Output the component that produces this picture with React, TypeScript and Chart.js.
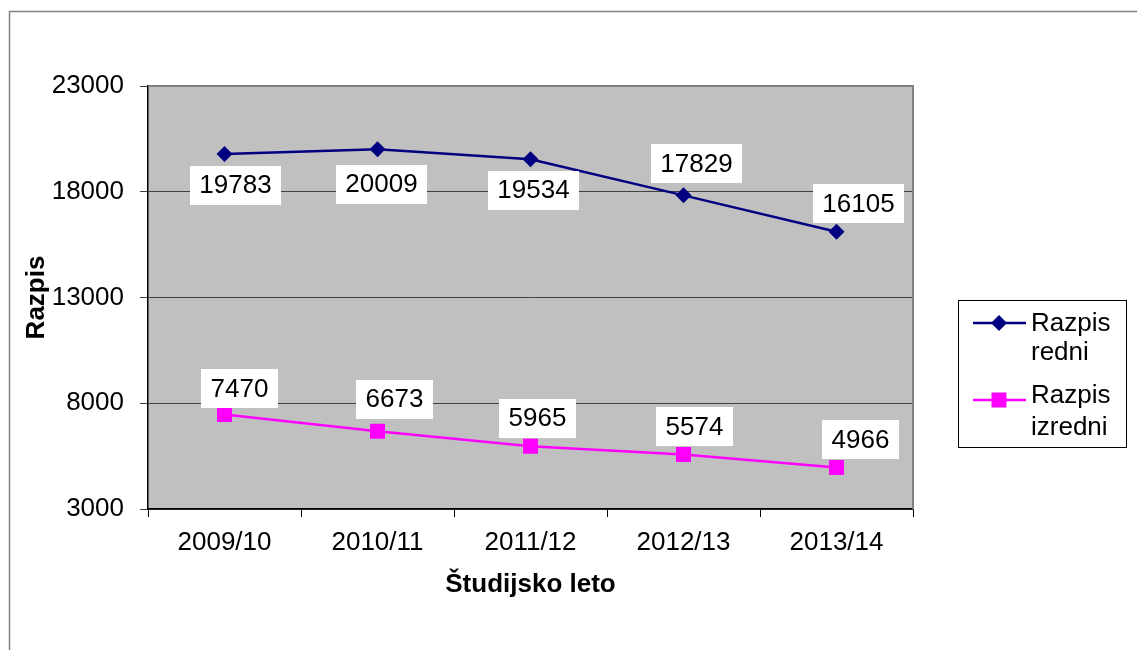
import React, { useEffect, useRef } from "react";
import { Chart, registerables } from "chart.js";

Chart.register(...registerables);

const categories = ["2009/10", "2010/11", "2011/12", "2012/13", "2013/14"];
const redni = [19783, 20009, 19534, 17829, 16105];
const izredni = [7470, 6673, 5965, 5574, 4966];
const seriesNames = [["Razpis", "redni"], ["Razpis", "izredni"]];
const yTitle = "Razpis";
const xTitle = "Študijsko leto";

// label placement offsets (pixels from the point), styling only
const labelOffsets = [
  [[11, 31], [4, 35], [3, 31], [13, -32], [22, -28]],
  [[15, -26], [17, -32], [7, -28], [11, -28], [24, -28]],
];

const FONT = "'Liberation Sans', Arial, sans-serif";
const BLUE = "#000080";
const PINK = "#FF00FF";

const bgPlugin = {
  id: "bgPlugin",
  beforeDraw(chart: any) {
    const { ctx, chartArea } = chart;
    ctx.save();
    ctx.fillStyle = "#ffffff";
    ctx.fillRect(0, 0, chart.width, chart.height);
    ctx.strokeStyle = "#808080";
    ctx.lineWidth = 1.5;
    ctx.strokeRect(9.5, 11.5, chart.width + 20, chart.height + 20);
    ctx.fillStyle = "#C0C0C0";
    ctx.fillRect(chartArea.left, chartArea.top, chartArea.right - chartArea.left, chartArea.bottom - chartArea.top);
    ctx.restore();
  },
  beforeDatasetsDraw(chart: any) {
    const { ctx, chartArea } = chart;
    ctx.save();
    ctx.strokeStyle = "#808080";
    ctx.lineWidth = 2;
    ctx.beginPath();
    ctx.moveTo(chartArea.left, chartArea.top);
    ctx.lineTo(chartArea.right, chartArea.top);
    ctx.lineTo(chartArea.right, chartArea.bottom);
    ctx.stroke();
    ctx.restore();
  },
  afterDatasetsDraw(chart: any) {
    const { ctx } = chart;
    ctx.save();
    ctx.font = `26px ${FONT}`;
    ctx.textAlign = "center";
    ctx.textBaseline = "middle";
    chart.data.datasets.forEach((ds: any, di: number) => {
      const meta = chart.getDatasetMeta(di);
      meta.data.forEach((pt: any, i: number) => {
        const text = String(ds.data[i]);
        const [ox, oy] = labelOffsets[di][i];
        const cx = pt.x + ox;
        const cy = pt.y + oy;
        const w = ctx.measureText(text).width + 19;
        const h = 39;
        ctx.fillStyle = "#ffffff";
        ctx.fillRect(Math.round(cx - w / 2), Math.round(cy - h / 2), Math.round(w), h);
        ctx.fillStyle = "#000000";
        ctx.fillText(text, cx, cy + 1);
      });
    });
    ctx.restore();
  },
  afterDraw(chart: any) {
    const { ctx } = chart;
    ctx.save();
    ctx.strokeStyle = "#000000";
    ctx.lineWidth = 1;
    ctx.strokeRect(958.5, 300.5, 168, 147);
    const entries = [
      { y: 323, lines: [324, 353] },
      { y: 400, lines: [396, 428] },
    ];
    chart.data.datasets.forEach((ds: any, di: number) => {
      const e = entries[di];
      ctx.strokeStyle = ds.borderColor;
      ctx.lineWidth = ds.borderWidth;
      ctx.beginPath();
      ctx.moveTo(973, e.y);
      ctx.lineTo(1026, e.y);
      ctx.stroke();
      ctx.fillStyle = ds.backgroundColor;
      if (ds.pointStyle === "rectRot") {
        const r = 8;
        ctx.beginPath();
        ctx.moveTo(999, e.y - r);
        ctx.lineTo(999 + r, e.y);
        ctx.lineTo(999, e.y + r);
        ctx.lineTo(999 - r, e.y);
        ctx.closePath();
        ctx.fill();
      } else {
        ctx.fillRect(999 - 7.5, e.y - 7.5, 15, 15);
      }
      ctx.fillStyle = "#000000";
      ctx.font = `26px ${FONT}`;
      ctx.textAlign = "left";
      ctx.textBaseline = "middle";
      seriesNames[di].forEach((t, k) => ctx.fillText(t, 1031, e.lines[k]));
    });
    ctx.restore();
  },
};

export default function App() {
  const ref = useRef<HTMLCanvasElement>(null);
  useEffect(() => {
    if (!ref.current) return;
    Chart.defaults.font.family = FONT;
    const chart = new Chart(ref.current, {
      type: "line",
      data: {
        labels: categories,
        datasets: [
          {
            label: seriesNames[0].join(" "),
            data: redni,
            borderColor: BLUE,
            backgroundColor: BLUE,
            borderWidth: 2.5,
            pointStyle: "rectRot",
            pointRadius: 8,
            pointBorderWidth: 0,
            tension: 0,
          },
          {
            label: seriesNames[1].join(" "),
            data: izredni,
            borderColor: PINK,
            backgroundColor: PINK,
            borderWidth: 2.5,
            pointStyle: "rect",
            pointRadius: 10.6,
            pointBorderWidth: 0,
            tension: 0,
          },
        ],
      },
      options: {
        responsive: false,
        animation: false,
        devicePixelRatio: 1,
        layout: { padding: { left: 0, right: 224, top: 86, bottom: 0 } },
        plugins: { legend: { display: false }, tooltip: { enabled: false } },
        scales: {
          x: {
            type: "category",
            offset: true,
            grid: { display: true, drawOnChartArea: false, offset: true, tickLength: 8, color: "#000000" },
            border: { color: "#000000", width: 1.5 },
            ticks: { color: "#000000", font: { size: 26 }, padding: 10 },
            title: { display: true, text: xTitle, color: "#000000", font: { size: 26, weight: "bold" }, padding: { top: 0, bottom: 50 } },
            afterFit: (s: any) => { s.height = 141; },
          },
          y: {
            min: 3000,
            max: 23000,
            ticks: { stepSize: 5000, color: "#000000", font: { size: 26 }, padding: 16, callback: (v: any) => String(v) },
            grid: { color: "#404040", tickLength: 8, lineWidth: 1 },
            border: { color: "#000000", width: 1.5 },
            title: { display: true, text: yTitle, color: "#000000", font: { size: 26, weight: "bold" }, padding: { top: 21, bottom: 0 } },
            afterFit: (s: any) => { s.width = 148; },
          },
        },
      },
      plugins: [bgPlugin],
    } as any);
    return () => chart.destroy();
  }, []);
  return (
    <div style={{ position: "fixed", left: 0, top: 0, width: 1137, height: 650 }}>
      <canvas ref={ref} width={1137} height={650} style={{ display: "block" }} />
    </div>
  );
}
